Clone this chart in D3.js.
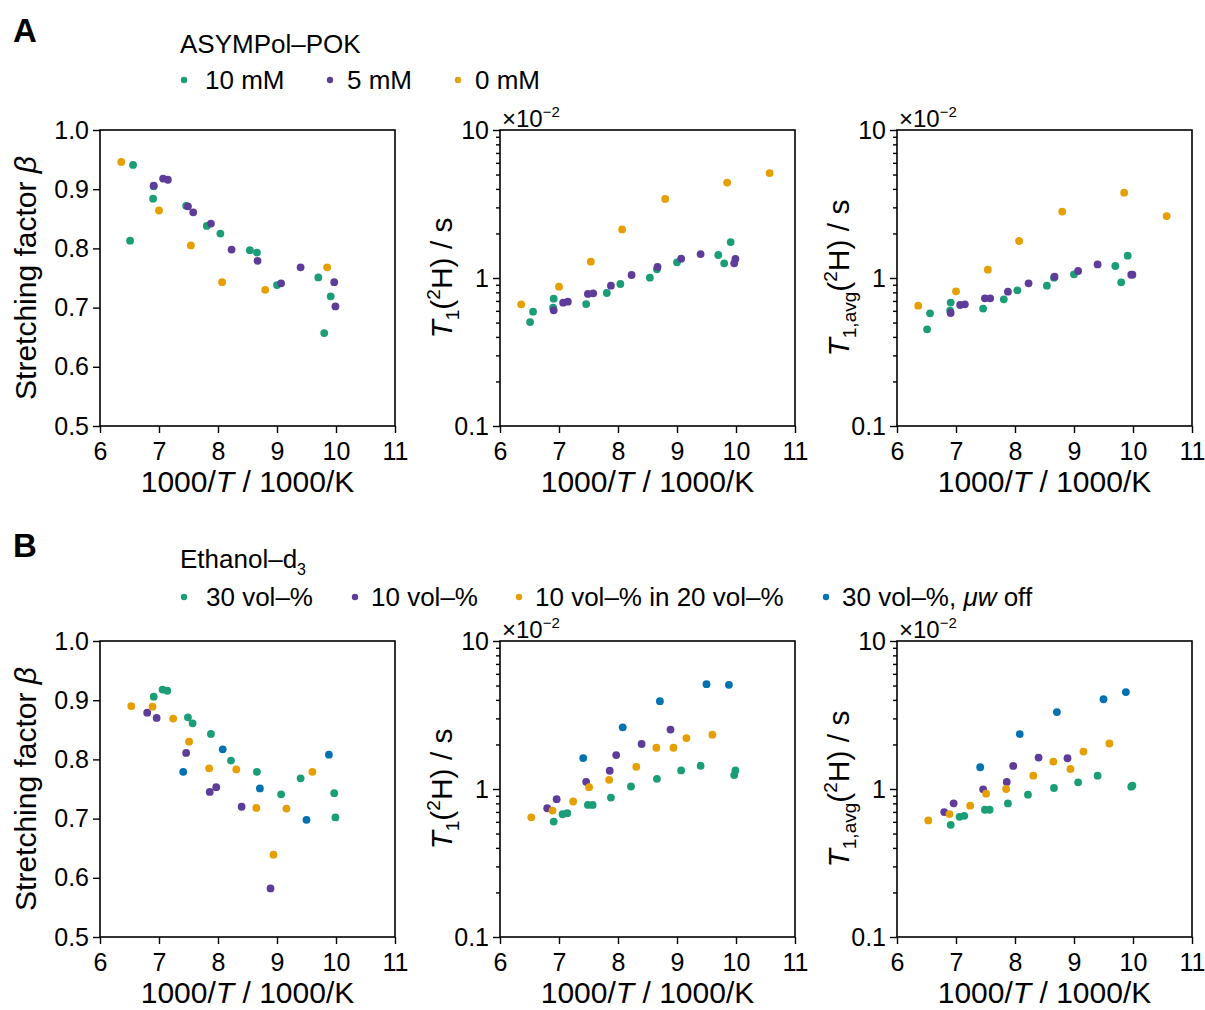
<!DOCTYPE html>
<html>
<head>
<meta charset="utf-8">
<script src="https://cdn.jsdelivr.net/npm/d3@7"></script>
<style>
  body { margin: 0; background: #fff; }
  text { font-family: "Liberation Sans", Arial, sans-serif; fill: #000; }
</style>
</head>
<body>
<svg id="fig" width="1205" height="1010"></svg>
<script>
// ---- data ----
// row A: ASYMPol-POK
var invT_A_10mM  = [6.51, 6.56, 6.90, 6.91, 7.46, 7.81, 8.04, 8.54, 8.66, 9.00, 9.70, 9.80, 9.91];
var beta_A_10mM  = [0.813, 0.941, 0.884, 0.905, 0.872, 0.838, 0.825, 0.797, 0.793, 0.738, 0.751, 0.657, 0.719];
var t1_A_10mM    = [0.504, 0.592, 0.630, 0.725, 0.667, 0.792, 0.911, 1.005, 1.144, 1.276, 1.43, 1.256, 1.75];
var t1avg_A_10mM = [0.450, 0.577, 0.601, 0.682, 0.621, 0.718, 0.826, 0.888, 1.005, 1.059, 1.205, 0.935, 1.416];

var invT_A_5mM  = [6.91, 7.07, 7.15, 7.49, 7.58, 7.88, 8.23, 8.67, 9.07, 9.40, 9.97, 9.99];
var beta_A_5mM  = [0.906, 0.918, 0.916, 0.871, 0.861, 0.842, 0.798, 0.779, 0.741, 0.768, 0.743, 0.702];
var t1_A_5mM    = [0.605, 0.681, 0.692, 0.780, 0.788, 0.888, 1.048, 1.187, 1.351, 1.452, 1.256, 1.344];
var t1avg_A_5mM = [0.580, 0.657, 0.664, 0.729, 0.729, 0.808, 0.920, 1.021, 1.115, 1.236, 1.053, 1.053];

var invT_A_0mM  = [6.36, 7.00, 7.54, 8.07, 8.80, 9.85, 10.57];
var beta_A_0mM  = [0.946, 0.864, 0.805, 0.743, 0.730, 0.768, null];
var t1_A_0mM    = [0.664, 0.874, 1.289, 2.13, 3.42, 4.41, 5.12];
var t1avg_A_0mM = [0.650, 0.813, 1.138, 1.778, 2.81, 3.77, 2.62];

// row B: Ethanol-d3
var invT_B_30  = [6.91, 7.06, 7.14, 7.49, 7.57, 7.88, 8.22, 8.66, 9.07, 9.40, 9.97, 9.99];
var beta_B_30  = [0.906, 0.918, 0.916, 0.871, 0.861, 0.843, 0.798, 0.779, 0.741, 0.768, 0.743, 0.702];
var t1_B_30    = [0.602, 0.675, 0.686, 0.781, 0.781, 0.875, 1.04, 1.172, 1.335, 1.436, 1.241, 1.335];
var t1avg_B_30 = [0.573, 0.649, 0.659, 0.724, 0.724, 0.799, 0.916, 1.016, 1.109, 1.231, 1.037, 1.054];

var invT_B_10  = [6.80, 6.96, 7.46, 7.86, 7.97, 8.40, 8.89];
var beta_B_10  = [0.879, 0.870, 0.811, 0.745, 0.753, 0.720, 0.582];
var t1_B_10    = [0.741, 0.853, 1.118, 1.328, 1.695, 2.014, 2.52];
var t1avg_B_10 = [0.698, 0.80, 0.995, 1.115, 1.432, 1.63, 1.614];

var invT_B_10in20  = [6.53, 6.89, 7.24, 7.51, 7.85, 8.31, 8.65, 8.94, 9.16, 9.60];
var beta_B_10in20  = [0.890, 0.889, 0.869, 0.830, 0.785, 0.783, 0.718, 0.639, 0.717, 0.779];
var t1_B_10in20    = [0.644, 0.715, 0.823, 1.029, 1.154, 1.413, 1.90, 1.90, 2.21, 2.33];
var t1avg_B_10in20 = [0.613, 0.677, 0.771, 0.930, 1.0, 1.231, 1.531, 1.367, 1.79, 2.03];

var invT_B_30off  = [7.41, 8.08, 8.71, 9.50, 9.88];
var beta_B_30off  = [0.779, 0.817, 0.751, 0.698, 0.808];
var t1_B_30off    = [1.618, 2.61, 3.92, 5.11, 5.06];
var t1avg_B_30off = [1.403, 2.35, 3.31, 4.04, 4.52];

var xTicks = [6, 7, 8, 9, 10, 11];
var betaTicks = [0.5, 0.6, 0.7, 0.8, 0.9, 1.0];
var logTicks = [0.1, 1, 10];
var logMinor = [0.2, 0.3, 0.4, 0.5, 0.6, 0.7, 0.8, 0.9, 2, 3, 4, 5, 6, 7, 8, 9];

var green = "#1b9e77", purple = "#5e3c99", orange = "#e69f00", blue = "#0072b2";

// ---- layout ----
var svg = d3.select("#fig");
svg.append("rect").attr("width", 1205).attr("height", 1010).attr("fill", "#fff");

var colX = [100, 500, 897], rowY = [130, 641], W = 295, H = 296;
var FONT_TICK = 25, FONT_TITLE = 30;

function pairs(xs, ys) {
    var out = [];
    for (var i = 0; i < xs.length; i++) {
        if (ys[i] != null) out.push([xs[i], ys[i]]);
    }
    return out;
}

function drawPanel(col, row, kind, series) {
    var x0 = colX[col], y0 = rowY[row];
    var g = svg.append("g").attr("transform", "translate(" + x0 + "," + y0 + ")");

    var x = d3.scaleLinear().domain([6, 11]).range([0, W]);
    var y;
    if (kind == "beta") {
        y = d3.scaleLinear().domain([0.5, 1.0]).range([H, 0]);
    } else {
        y = d3.scaleLog().domain([0.1, 10]).range([H, 0]);
    }

    // bottom axis
    var xa = g.append("g").attr("transform", "translate(0," + H + ")")
            .call(d3.axisBottom(x).tickValues(xTicks).tickFormat(d3.format("d"))
                    .tickSize(7).tickSizeOuter(0).tickPadding(9));
    // left axis
    var ya;
    if (kind == "beta") {
        ya = g.append("g").call(d3.axisLeft(y).tickValues(betaTicks).tickFormat(d3.format(".1f"))
                .tickSize(7).tickSizeOuter(0).tickPadding(4));
    } else {
        g.append("g").call(d3.axisLeft(y).tickValues(logMinor).tickFormat("")
                .tickSize(4).tickSizeOuter(0))
                .select(".domain").remove();
        ya = g.append("g").call(d3.axisLeft(y).tickValues(logTicks)
                .tickFormat(function (d) { return d == 0.1 ? "0.1" : String(d); })
                .tickSize(7).tickSizeOuter(0).tickPadding(4));
    }
    g.selectAll(".tick line").attr("stroke", "#000").attr("stroke-width", 1.4);
    g.selectAll(".domain").remove();
    [xa, ya].forEach(function (a) {
        a.selectAll("text").attr("font-size", FONT_TICK)
                .attr("font-family", "Liberation Sans, Arial, sans-serif").attr("fill", "#000");
    });

    // frame
    g.append("rect").attr("x", 0).attr("y", 0).attr("width", W).attr("height", H)
            .attr("fill", "none").attr("stroke", "#000").attr("stroke-width", 1.6);

    // points
    series.forEach(function (s) {
        g.append("g").selectAll("circle")
                .data(pairs(s.x, s.y))
                .enter()
                .append("circle")
                .attr("cx", function (d) { return x(d[0]); })
                .attr("cy", function (d) { return y(d[1]); })
                .attr("r", 3.9)
                .attr("fill", s.color);
    });

    // x title
    var xt = g.append("text").attr("x", W / 2).attr("y", H + 66)
            .attr("text-anchor", "middle").attr("font-size", FONT_TITLE);
    xt.append("tspan").text("1000/");
    xt.append("tspan").attr("font-style", "italic").text("T");
    xt.append("tspan").text(" / 1000/K");

    // y title
    var yt = g.append("text")
            .attr("transform", "translate(" + (kind == "beta" ? -64 : -48) + "," + (H / 2) + ") rotate(-90)")
            .attr("text-anchor", "middle").attr("font-size", FONT_TITLE);
    if (kind == "beta") {
        yt.append("tspan").text("Stretching factor ");
        yt.append("tspan").attr("font-style", "italic").text("\u03b2");
    } else {
        yt.append("tspan").attr("font-style", "italic").text("T");
        yt.append("tspan").attr("font-size", 19).attr("dy", 7).text(kind == "t1" ? "1" : "1,avg");
        yt.append("tspan").attr("dy", -7).text("(");
        yt.append("tspan").attr("font-size", 19).attr("dy", -12).text("2");
        yt.append("tspan").attr("dy", 12).text("H) / s");

        // multiplier
        var m = g.append("text").attr("x", 2).attr("y", -3).attr("font-size", 24);
        m.append("tspan").text("\u00d710");
        m.append("tspan").attr("font-size", 15).attr("dy", -10).text("\u22122");
    }
}

function drawLegend(letter, ly, title, sub, items, itemY) {
    svg.append("text").attr("x", 13).attr("y", ly).attr("font-size", 33)
            .attr("font-weight", "bold").text(letter);
    var t = svg.append("text").attr("x", 180).attr("y", ly + 11).attr("font-size", 26);
    t.append("tspan").text(title);
    if (sub) t.append("tspan").attr("font-size", 16).attr("dy", 7).text(sub);
    items.forEach(function (it) {
        svg.append("circle").attr("cx", it.mx).attr("cy", itemY).attr("r", 3.2).attr("fill", it.color);
        var tx = svg.append("text").attr("x", it.tx).attr("y", itemY + 9).attr("font-size", 26);
        it.parts.forEach(function (p) {
            tx.append("tspan").attr("font-style", p.italic ? "italic" : "normal").text(p.t);
        });
    });
}

// ---- row A ----
var seriesA = function (which) {
    return [
        {x: invT_A_10mM, y: which[0], color: green},
        {x: invT_A_5mM, y: which[1], color: purple},
        {x: invT_A_0mM, y: which[2], color: orange}
    ];
};
drawPanel(0, 0, "beta", seriesA([beta_A_10mM, beta_A_5mM, beta_A_0mM]));
drawPanel(1, 0, "t1", seriesA([t1_A_10mM, t1_A_5mM, t1_A_0mM]));
drawPanel(2, 0, "t1avg", seriesA([t1avg_A_10mM, t1avg_A_5mM, t1avg_A_0mM]));

// ---- row B ----
var seriesB = function (which) {
    return [
        {x: invT_B_30, y: which[0], color: green},
        {x: invT_B_10, y: which[1], color: purple},
        {x: invT_B_10in20, y: which[2], color: orange},
        {x: invT_B_30off, y: which[3], color: blue}
    ];
};
drawPanel(0, 1, "beta", seriesB([beta_B_30, beta_B_10, beta_B_10in20, beta_B_30off]));
drawPanel(1, 1, "t1", seriesB([t1_B_30, t1_B_10, t1_B_10in20, t1_B_30off]));
drawPanel(2, 1, "t1avg", seriesB([t1avg_B_30, t1avg_B_10, t1avg_B_10in20, t1avg_B_30off]));

// ---- legends ----
drawLegend("A", 42, "ASYMPol\u2013POK", null, [
    {mx: 184, tx: 205, color: green, parts: [{t: "10 mM"}]},
    {mx: 330, tx: 347, color: purple, parts: [{t: "5 mM"}]},
    {mx: 458, tx: 475, color: orange, parts: [{t: "0 mM"}]}
], 80);
drawLegend("B", 557, "Ethanol\u2013d", "3", [
    {mx: 184, tx: 206, color: green, parts: [{t: "30 vol\u2013%"}]},
    {mx: 355, tx: 371, color: purple, parts: [{t: "10 vol\u2013%"}]},
    {mx: 519, tx: 535, color: orange, parts: [{t: "10 vol\u2013% in 20 vol\u2013%"}]},
    {mx: 826, tx: 842, color: blue, parts: [{t: "30 vol\u2013%, "}, {t: "\u03bcw", italic: true}, {t: " off"}]}
], 597);
</script>
</body>
</html>
